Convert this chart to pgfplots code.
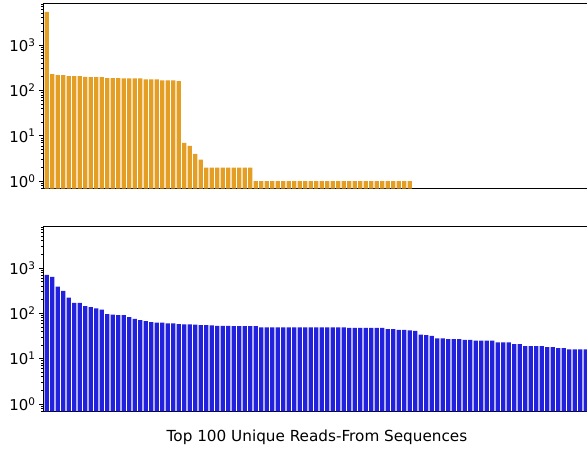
\documentclass[border=0pt]{standalone}
\usepackage{pgfplots}
\pgfplotsset{compat=1.18}
\usepackage{fontspec}
\setmainfont{DejaVu Sans}

\definecolor{barorange}{RGB}{227,158,35}
\definecolor{barblue}{RGB}{34,34,222}

\pgfplotsset{
  every axis/.append style={
    scale only axis,
    width=546bp, height=185bp,
    xmin=-0.5, xmax=98.77,
    ymin=0.69, ymax=8300,
    xtick=\empty,
    tick align=outside,
    major tick length=5bp, minor tick length=3bp,
    tick style={black, line width=0.8bp},
    axis line style={line width=1bp},
    ticklabel style={font=\fontsize{15}{18}\selectfont},
  }
}

\begin{document}
\begin{tikzpicture}
\useasboundingbox (0bp,0bp) rectangle (587bp,-450bp);

\begin{axis}[at={(44bp,-3.5bp)}, anchor=north west,
  ymode=log, log origin y=infty,
  ybar, bar width=0.8,
  ytick={1,10,100,1000},
  yticklabels={10\textsuperscript{0},10\textsuperscript{1},10\textsuperscript{2},10\textsuperscript{3}},
  minor ytick={0.7,0.8,0.9,2,3,4,5,6,7,8,9,20,30,40,50,60,70,80,90,200,300,400,500,600,700,800,900,2000,3000,4000,5000,6000,7000,8000}]
\addplot[fill=barorange, draw=none] coordinates {
 (0,5400) (1,230) (2,219) (3,219) (4,208) (5,208) (6,208) (7,201) (8,198) (9,198)
 (10,198) (11,188) (12,188) (13,188) (14,185) (15,185) (16,185) (17,185) (18,176) (19,176)
 (20,176) (21,167) (22,167) (23,167) (24,161) (25,7) (26,6) (27,4) (28,3) (29,2)
 (30,2) (31,2) (32,2) (33,2) (34,2) (35,2) (36,2) (37,2) (38,1) (39,1)
 (40,1) (41,1) (42,1) (43,1) (44,1) (45,1) (46,1) (47,1) (48,1) (49,1)
 (50,1) (51,1) (52,1) (53,1) (54,1) (55,1) (56,1) (57,1) (58,1) (59,1)
 (60,1) (61,1) (62,1) (63,1) (64,1) (65,1) (66,1)
};
\end{axis}

\begin{axis}[at={(44bp,-226.3bp)}, anchor=north west,
  ymode=log, log origin y=infty,
  ybar, bar width=0.8,
  ytick={1,10,100,1000},
  yticklabels={10\textsuperscript{0},10\textsuperscript{1},10\textsuperscript{2},10\textsuperscript{3}},
  minor ytick={0.7,0.8,0.9,2,3,4,5,6,7,8,9,20,30,40,50,60,70,80,90,200,300,400,500,600,700,800,900,2000,3000,4000,5000,6000,7000,8000},
  xlabel={Top 100 Unique Reads-From Sequences},
  xlabel style={font=\fontsize{15.3}{18}\selectfont, anchor=base,
                at={(axis description cs:0.5,0)}, yshift=-30bp}]
\addplot[fill=barblue, draw=none] coordinates {
 (0,703) (1,635) (2,387) (3,311) (4,221) (5,171) (6,171) (7,144) (8,137) (9,128)
 (10,120) (11,96) (12,94) (13,91) (14,91) (15,82) (16,75) (17,71) (18,67) (19,64)
 (20,62) (21,62) (22,60) (23,60) (24,58) (25,57) (26,57) (27,56) (28,55) (29,55)
 (30,54) (31,53) (32,53) (33,53) (34,52) (35,52) (36,52) (37,52) (38,52) (39,49)
 (40,49) (41,49) (42,49) (43,49) (44,49) (45,49) (46,49) (47,49) (48,49) (49,49)
 (50,49) (51,49) (52,49) (53,49) (54,49) (55,48) (56,48) (57,48) (58,48) (59,48)
 (60,48) (61,48) (62,45) (63,45) (64,43) (65,43) (66,42) (67,41) (68,34) (69,33)
 (70,32) (71,28) (72,28) (73,27) (74,27) (75,27) (76,26) (77,26) (78,25) (79,25)
 (80,25) (81,25) (82,23) (83,23) (84,23) (85,21) (86,21) (87,19) (88,19) (89,19)
 (90,19) (91,18) (92,18) (93,17) (94,17) (95,16) (96,16) (97,16) (98,16) (99,16)
};
\end{axis}
\end{tikzpicture}
\end{document}
